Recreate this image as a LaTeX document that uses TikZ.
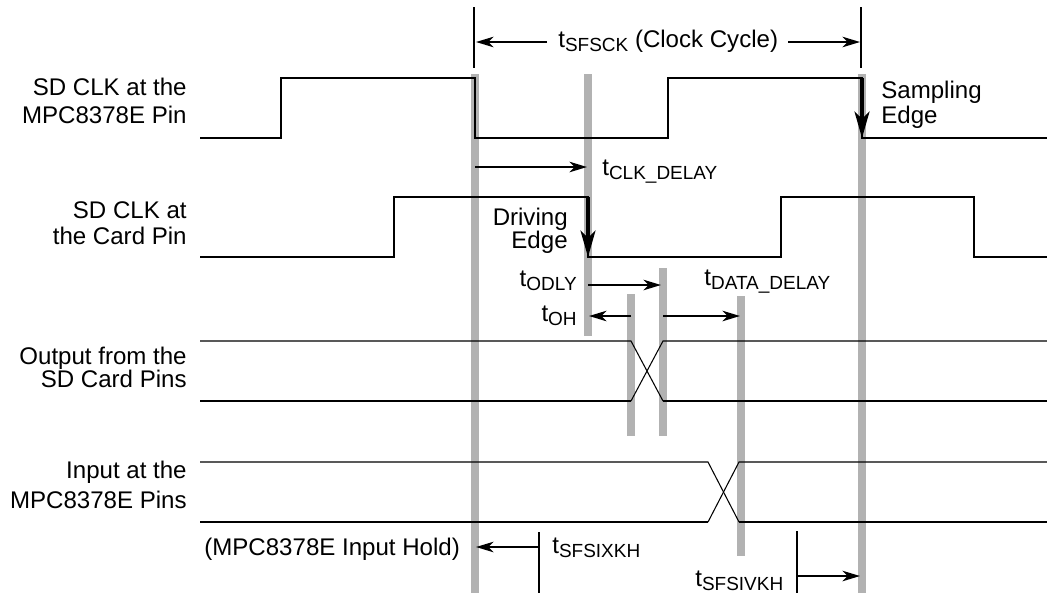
\documentclass[tikz,border=0pt]{standalone}
\usepackage{fontspec}
\setmainfont{Liberation Sans}
\usetikzlibrary{arrows.meta}
% t with a lowered, smaller subscript
\newcommand{\tsub}[1]{t\raisebox{-2.8pt}{\fontsize{10.8}{12}\selectfont #1}}
\begin{document}
\begin{tikzpicture}[x=0.02cm, y=-0.02cm,
    every node/.style={inner sep=0pt, font=\fontsize{13.7}{15.9}\selectfont},
    bar/.style={line width=4.5pt, black!30},
    sig/.style={line width=1.1pt},
    thinsig/.style={line width=0.6pt},
    dim/.style={line width=1.1pt, -{Stealth[length=10pt, width=6pt, inset=3pt]}},
    edgearrow/.style={line width=1.9pt, -{Stealth[length=15pt, width=8.5pt, inset=4pt]}},
    lbl/.style={align=right, anchor=east}]

    \useasboundingbox (0,0) rectangle (1047,593);

    % grey reference bars
    \draw[bar] (475,74) -- (475,593);
    \draw[bar] (588,74) -- (588,336);
    \draw[bar] (631,294) -- (631,436);
    \draw[bar] (663,268) -- (663,436);
    \draw[bar] (741,296) -- (741,556);
    \draw[bar] (862,74) -- (862,593);

    % signal names
    \node[lbl] (clkpin) at (187,100.5) {SD CLK at the\\MPC8378E Pin};
    \node[lbl] (clkcard) at (187,223.5) {SD CLK at\\[-1.1pt]the Card Pin};
    \node[lbl] (dout) at (187,367.5) {Output from the\\[-3.2pt]SD Card Pins};
    \node[lbl] (din) at (187,484.5) {Input at the\\[1.2pt]MPC8378E Pins};

    % clock at the MPC8378E pin
    \draw[sig] (200,138) -- (281,138) -- (281,78) -- (475,78) -- (475,138) -- (668,138) -- (668,78) -- (862,78) -- (862,138) -- (1047,138);
    \draw[edgearrow] (862,78) -- (862,138);
    \node[align=left, anchor=west] (samp) at (881,104.5) {Sampling\\[-1.7pt]Edge};

    % clock at the card pin
    \draw[sig] (200,257) -- (394,257) -- (394,197) -- (588,197) -- (588,257) -- (781,257) -- (781,197) -- (974,197) -- (974,257) -- (1047,257);
    \draw[edgearrow] (588,197) -- (588,257);
    \node[align=right, anchor=east] (drive) at (568,231) {Driving\\[-3pt]Edge};

    % output from the card
    \draw[thinsig] (200,341) -- (631,341) -- (663,401);
    \draw[thinsig] (631,401) -- (663,341) -- (1047,341);
    \draw[sig] (200,401) -- (631,401);
    \draw[sig] (663,401) -- (1047,401);

    % input at the MPC8378E
    \draw[thinsig] (200,462) -- (708,462) -- (739,522);
    \draw[thinsig] (708,522) -- (739,462) -- (1047,462);
    \draw[sig] (200,522) -- (708,522);
    \draw[sig] (739,522) -- (1047,522);

    % clock cycle
    \draw[sig] (474,7) -- (474,68);
    \draw[sig] (861,7) -- (861,68);
    \node[anchor=base west] (cyc) at (558,47) {\tsub{SFSCK} (Clock Cycle)};
    \draw[dim] (547,42) -- (476,42);
    \draw[dim] (788,42) -- (860,42);

    % delays
    \draw[dim] (475,167) -- (587,167);
    \node[anchor=base west] (clkdly) at (602,175) {\tsub{CLK\_DELAY}};
    \draw[dim] (588,285) -- (661,285);
    \node[anchor=base east] (odly) at (577,286) {\tsub{ODLY}};
    \draw[dim] (631,316) -- (589,316);
    \node[anchor=base east] (oh) at (577,321) {\tsub{OH}};
    \draw[dim] (663,316) -- (740,316);
    \node[anchor=base west] (datadly) at (704,285) {\tsub{DATA\_DELAY}};

    % hold and setup
    \node[anchor=base west] (hold) at (204,555) {(MPC8378E Input Hold)};
    \draw[sig] (539,532) -- (539,593);
    \draw[dim] (539,547) -- (476,547);
    \node[anchor=base west] (ixkh) at (552,553) {\tsub{SFSIXKH}};
    \draw[sig] (797,531) -- (797,593);
    \draw[dim] (797,576) -- (860,576);
    \node[anchor=base west] (ivkh) at (695,586) {\tsub{SFSIVKH}};

\end{tikzpicture}
\end{document}
